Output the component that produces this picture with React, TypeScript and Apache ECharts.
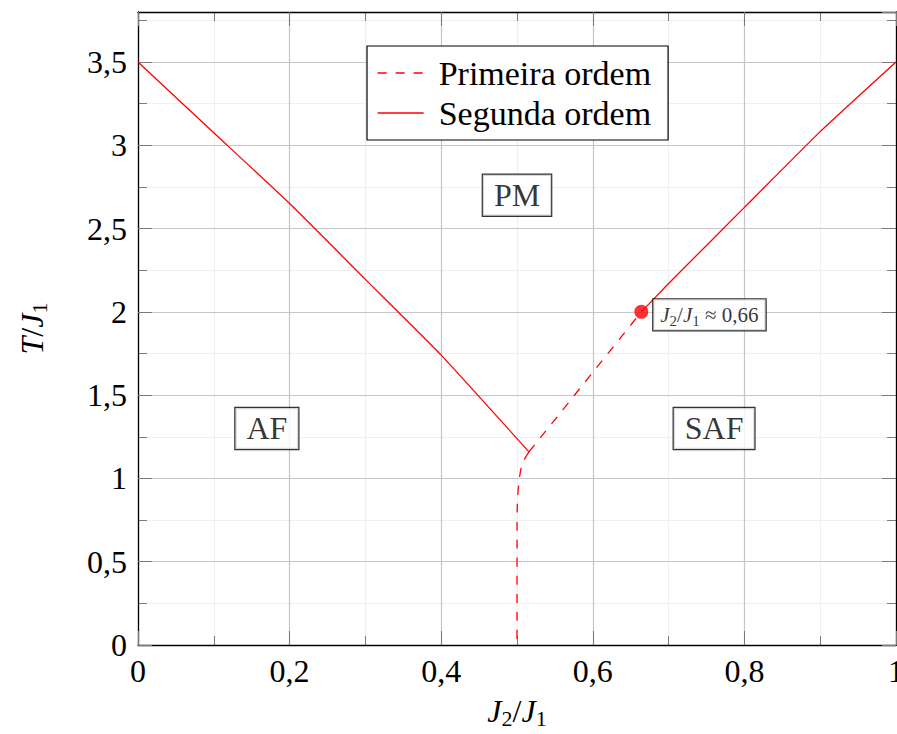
import { useEffect, useRef } from 'react';
import * as echarts from 'echarts';

const FONT = 'Liberation Serif';

// Phase boundaries: [J2/J1, T/J1]
const secondOrderLeft = [[0, 3.5], [0.1, 3.075], [0.2, 2.65], [0.3, 2.195], [0.4, 1.74], [0.5158, 1.159]];
const secondOrderRight = [[0.664, 2.0], [0.7, 2.17], [0.8, 2.627], [0.9, 3.082], [1, 3.5]];
const firstOrderUpper = [[0.5158, 1.159], [0.664, 2.0]];
const firstOrderLower = [[0.5158, 1.159], [0.507, 1.089], [0.5026, 0.98], [0.5005, 0.85], [0.5, 0.7], [0.5, 0]];
const criticalPoint = [0.664, 2.0];
const phaseNames = ['PM', 'AF', 'SAF'];
const phasePositions = [[0.5, 2.7], [0.17, 1.3], [0.76, 1.3]];
const legendNames = ['Primeira ordem', 'Segunda ordem'];

const RED = '#ff0000';
const fmt = (v: number) => String(Math.round(v * 100) / 100).replace('.', ',');

function richSet(size: number, subSize: number, lh: number, subLh: number) {
  return {
    i: { fontFamily: FONT, fontStyle: 'italic', fontSize: size, lineHeight: lh, color: '#000' },
    n: { fontFamily: FONT, fontSize: size, lineHeight: lh, color: '#000' },
    s: { fontFamily: FONT, fontSize: subSize, lineHeight: subLh, verticalAlign: 'bottom', color: '#000' },
  };
}

function makeAxis(kind: 'x' | 'y', position: string, interval: number, max: number, major: boolean, labels: boolean, split: boolean) {
  const a: any = {
    type: 'value',
    position,
    min: 0,
    max,
    interval,
    z: major ? 1 : 0,
    axisLine: { show: major, onZero: false, lineStyle: { color: '#000', width: 1.3 } },
    axisTick: { show: true, inside: true, length: major ? 14 : 9, lineStyle: { color: '#7a7a7a', width: 1 } },
    axisLabel: labels
      ? {
          show: true,
          margin: kind === 'x' ? 10 : 11,
          fontFamily: FONT,
          fontSize: 32,
          color: '#000',
          showMaxLabel: kind === 'x',
          formatter: (v: number) => fmt(v),
        }
      : { show: false },
    splitLine: split
      ? { show: true, lineStyle: { color: major ? '#c6c6c6' : '#efefef', width: 1.2 } }
      : { show: false },
  };
  return a;
}

export default function App() {
  const ref = useRef<HTMLDivElement>(null);
  useEffect(() => {
    if (!ref.current) return;
    const chart = echarts.init(ref.current, undefined, { renderer: 'svg' });
    const xMain = makeAxis('x', 'bottom', 0.2, 1, true, true, true);
    xMain.name = '{i|J}{s|2}{n|/}{i|J}{s|1}';
    xMain.nameLocation = 'middle';
    xMain.nameGap = 48;
    xMain.nameTextStyle = { rich: richSet(32, 22, 36, 18) };
    const yMain = makeAxis('y', 'left', 0.5, 3.8, true, true, true);
    yMain.name = '{i|T}{n|/}{i|J}{s|1}';
    yMain.nameLocation = 'middle';
    yMain.nameGap = 88;
    yMain.nameTextStyle = { rich: richSet(32, 22, 36, 18) };

    const lineBase = (name: string, data: number[][], dashed: boolean) => ({
      type: 'line',
      name,
      data,
      symbol: 'none',
      color: RED,
      z: 3,
      lineStyle: { color: RED, width: 1.3, type: dashed ? [9, 9] : 'solid' },
      silent: true,
    });

    chart.setOption({
      animation: false,
      backgroundColor: '#fff',
      grid: { left: 138, right: 1, top: 12, bottom: 89, containLabel: false, outerBoundsMode: 'none' },
      xAxis: [
        xMain,
        makeAxis('x', 'bottom', 0.1, 1, false, false, true),
        makeAxis('x', 'top', 0.2, 1, true, false, false),
        makeAxis('x', 'top', 0.1, 1, false, false, false),
      ],
      yAxis: [
        yMain,
        makeAxis('y', 'left', 0.25, 3.8, false, false, true),
        makeAxis('y', 'right', 0.5, 3.8, true, false, false),
        makeAxis('y', 'right', 0.25, 3.8, false, false, false),
      ],
      legend: {
        data: legendNames,
        orient: 'vertical',
        left: 367,
        top: 46,
        padding: [10, 17, 10, 10],
        itemGap: 6,
        itemWidth: 46,
        itemHeight: 14,
        backgroundColor: '#fff',
        borderColor: '#000',
        borderWidth: 1.2,
        borderRadius: 0,
        selectedMode: false,
        itemStyle: { opacity: 0, borderWidth: 0 },
        lineStyle: { width: 1.3 },
        textStyle: { fontFamily: FONT, fontSize: 34, color: '#000', lineHeight: 32, padding: [0, 0, 0, 10] },
      },
      series: [
        lineBase('Primeira ordem', firstOrderUpper, true),
        { ...lineBase('Primeira ordem', firstOrderLower, true), smooth: 0.3 },
        { ...lineBase('Segunda ordem', secondOrderLeft, false), smooth: 0.15 },
        { ...lineBase('Segunda ordem', secondOrderRight, false), smooth: 0.15 },
        {
          type: 'scatter',
          name: 'ponto',
          z: 5,
          symbolSize: 14,
          itemStyle: { color: RED },
          data: [criticalPoint],
          label: {
            show: true,
            position: 'right',
            distance: 5,
            offset: [0, 3],
            formatter: '{i|J}{s|2}{n|/}{i|J}{s|1}{n| ≈ 0,66}',
            backgroundColor: '#fff',
            borderColor: '#000',
            borderWidth: 1.2,
            padding: [3, 7, 2, 7],
            rich: richSet(21, 15, 26, 12),
          },
        },
        {
          type: 'scatter',
          name: 'fases',
          z: 4,
          symbolSize: 0,
          data: phaseNames.map((n, i) => ({ name: n, value: phasePositions[i] })),
          label: {
            show: true,
            position: 'inside',
            formatter: '{b}',
            fontFamily: FONT,
            fontSize: 32,
            lineHeight: 32,
            color: '#000',
            backgroundColor: '#fff',
            borderColor: '#000',
            borderWidth: 1.2,
            padding: [5, 11, 4, 11],
          },
        },
      ],
    });
    return () => chart.dispose();
  }, []);
  return <div ref={ref} style={{ position: 'fixed', left: 0, top: 0, width: 897, height: 734 }} />;
}
